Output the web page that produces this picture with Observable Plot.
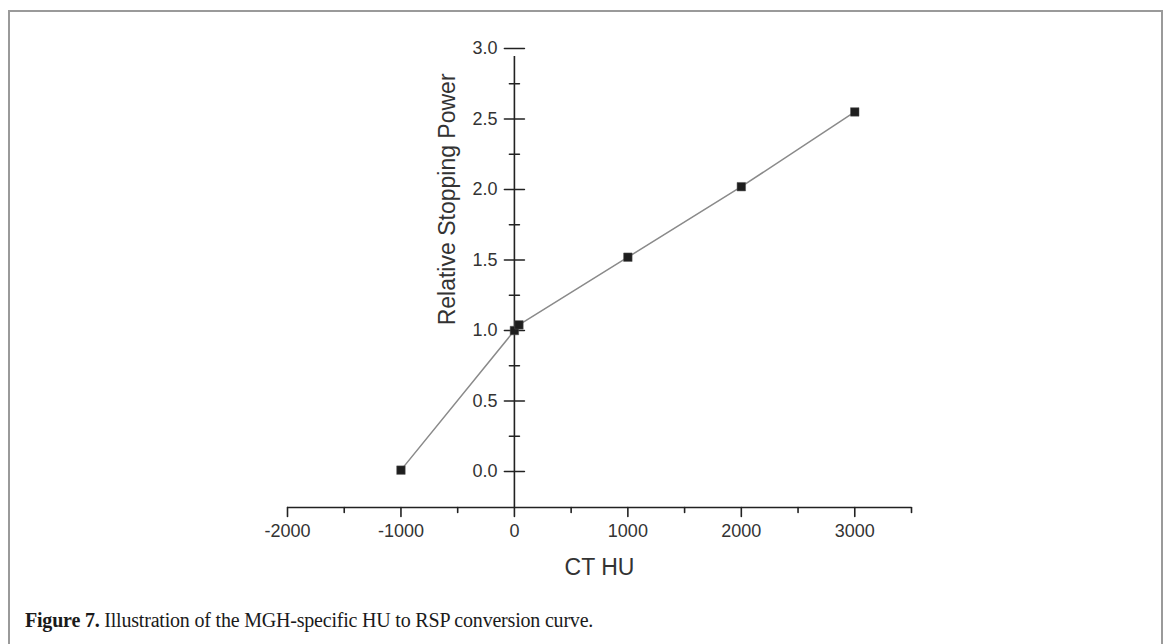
<!DOCTYPE html>
<html>
<head>
<meta charset="utf-8">
<script src="https://cdn.jsdelivr.net/npm/d3@7"></script>
<script src="https://cdn.jsdelivr.net/npm/@observablehq/plot@0.6"></script>
<style>
  body { margin: 0; background: #fff; width: 1168px; height: 644px; overflow: hidden; position: relative; }
  #frame { position: absolute; left: 8px; top: 10px; width: 1155px; height: 700px; border: 2px solid #9a9a9a; border-bottom: none; box-sizing: border-box; }
  #chart { position: relative; }
  #caption { position: relative; margin: 0; padding-left: 25px; font-family: "Liberation Serif", serif; font-size: 20px; line-height: 20px; color: #1a1a1a; letter-spacing: -0.2px; }
</style>
</head>
<body>
<div id="frame"></div>
<div id="chart"></div>
<div id="caption"><b>Figure 7.</b> Illustration of the MGH-specific HU to RSP conversion curve.</div>
<script>
// Data
const hu  = [-1000, 0, 40, 1000, 2000, 3000];
const rsp = [0.01, 1.0, 1.04, 1.52, 2.02, 2.55];
const xMajorTicks = [-2000, -1000, 0, 1000, 2000, 3000];
const xMinorTicks = [-1500, -500, 500, 1500, 2500, 3500];
const yMajorTicks = [0.0, 0.5, 1.0, 1.5, 2.0, 2.5, 3.0];
const yMinorTicks = [0.25, 0.75, 1.25, 1.75, 2.25, 2.75];
const xTitle = "CT HU";
const yTitle = "Relative Stopping Power";
const xDomain = [-2000, 3500];
const yDomain = [-0.255, 3.0];

const pts = hu.map((h, i) => ({hu: h, rsp: rsp[i]}));
const tickLine = {draw(ctx, l) { ctx.moveTo(0, 0); ctx.lineTo(0, -l); }};
const axisColor = "#222";
const textColor = "#333";

const plot = Plot.plot({
  width: 1168,
  height: 610,
  marginLeft: 287,
  marginRight: 257,
  marginTop: 48,
  marginBottom: 103,
  style: {fontFamily: "'Liberation Sans', Arial, sans-serif", background: "transparent"},
  x: {domain: xDomain, axis: null},
  y: {domain: yDomain, axis: null},
  marks: [
    Plot.ruleY([yDomain[0]], {x1: xDomain[0], x2: xDomain[1], stroke: axisColor, strokeWidth: 1.6}),
    Plot.ruleX([0], {y1: yDomain[0], y2: yDomain[1], stroke: axisColor, strokeWidth: 1.6, insetBottom: -8}),
    Plot.vector(yMajorTicks, {x: 0, y: d => d, length: 20, rotate: 90, anchor: "middle", shape: tickLine, stroke: axisColor, strokeWidth: 1.6}),
    Plot.vector(yMinorTicks, {x: 0, y: d => d, length: 10, rotate: 90, anchor: "middle", shape: tickLine, stroke: axisColor, strokeWidth: 1.6}),
    Plot.vector(xMajorTicks, {x: d => d, y: yDomain[0], length: 9, rotate: 180, anchor: "start", shape: tickLine, stroke: axisColor, strokeWidth: 1.6}),
    Plot.vector(xMinorTicks, {x: d => d, y: yDomain[0], length: 5, rotate: 180, anchor: "start", shape: tickLine, stroke: axisColor, strokeWidth: 1.6}),
    Plot.text(yMajorTicks, {x: 0, y: d => d, text: d => d.toFixed(1), textAnchor: "end", dx: -17, fontSize: 18, fill: textColor}),
    Plot.text(xMajorTicks, {x: d => d, y: yDomain[0], text: d => String(d), dy: 24, fontSize: 18, fill: textColor}),
    Plot.text([xTitle], {x: (xDomain[0] + xDomain[1]) / 2, y: yDomain[0], text: d => d, dy: 60, fontSize: 23, fill: textColor}),
    Plot.text([yTitle], {x: 0, y: 1.93, text: d => d, rotate: -90, dx: -67, fontSize: 23, fill: textColor}),
    Plot.line(pts, {x: "hu", y: "rsp", stroke: "#8a8a8a", strokeWidth: 1.5}),
    Plot.dot(pts, {x: "hu", y: "rsp", symbol: "square", r: 4.8, fill: "#1e1e1e", stroke: "#555", strokeWidth: 0.5})
  ]
});
document.getElementById("chart").appendChild(plot);
</script>
</body>
</html>
